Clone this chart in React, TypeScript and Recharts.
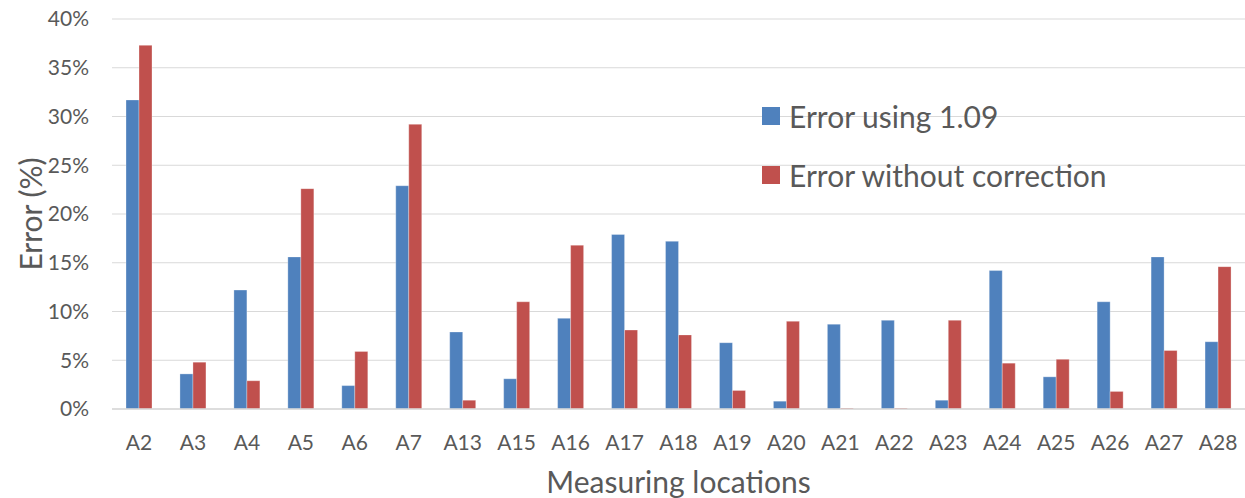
import React from 'react';
import { BarChart, Bar, XAxis, YAxis, CartesianGrid } from 'recharts';

const locations = ['A2', 'A3', 'A4', 'A5', 'A6', 'A7', 'A13', 'A15', 'A16', 'A17', 'A18', 'A19', 'A20', 'A21', 'A22', 'A23', 'A24', 'A25', 'A26', 'A27', 'A28'];
const errorUsing109 = [31.7, 3.6, 12.2, 15.6, 2.4, 22.9, 7.9, 3.1, 9.3, 17.9, 17.2, 6.8, 0.8, 8.7, 9.1, 0.9, 14.2, 3.3, 11.0, 15.6, 6.9];
const errorWithoutCorrection = [37.3, 4.8, 2.9, 22.6, 5.9, 29.2, 0.9, 11.0, 16.8, 8.1, 7.6, 1.9, 9.0, 0.1, 0.1, 9.1, 4.7, 5.1, 1.8, 6.0, 14.6];
const yTicks = [0, 5, 10, 15, 20, 25, 30, 35, 40];

const seriesNames = ['Error using 1.09', 'Error without correction'];
const seriesColors = ['#4F81BD', '#C0504D'];

const data = locations.map((loc, i) => ({
  loc,
  a: errorUsing109[i],
  b: errorWithoutCorrection[i],
}));

const FONT = 'Lato, "Open Sans", sans-serif';
const TEXT = '#595959';

// legend drawn as an overlay so it doesn't eat into the plot area
function LegendBox() {
  return (
    <div style={{ position: 'absolute', left: 762, top: 86, fontFamily: FONT, fontSize: 30, color: TEXT, lineHeight: 1 }}>
      {seriesNames.map((n, i) => (
        <div key={n} style={{ display: 'flex', alignItems: 'center', height: 59 }}>
          <span style={{ width: 18, height: 18, background: seriesColors[i], display: 'inline-block', marginRight: 9 }} />
          <span>{n}</span>
        </div>
      ))}
    </div>
  );
}

export default function App() {
  return (
    <div style={{ position: 'absolute', left: 0, top: 0, width: 1245, height: 498, background: '#fff' }}>
      <BarChart
        width={1245}
        height={498}
        data={data}
        margin={{ top: 19, right: 0, bottom: 0, left: 0 }}
        barGap={0}
        barCategoryGap="25%"
      >
        <CartesianGrid vertical={false} stroke="#d9d9d9" strokeWidth={1.2} />
        <XAxis
          dataKey="loc"
          height={89}
          tickLine={false}
          axisLine={{ stroke: '#d9d9d9', strokeWidth: 1.5 }}
          tickMargin={20}
          interval={0}
          tick={{ fill: TEXT, fontSize: 21, fontFamily: FONT }}
          label={{
            content: (p: any) => {
              const vb = p.viewBox;
              return (
                <text x={vb.x + vb.width / 2} y={vb.y + vb.height - 5} textAnchor="middle" fill={TEXT} fontSize={30} fontFamily={FONT}>
                  Measuring locations
                </text>
              );
            },
          }}
        />
        <YAxis
          width={112}
          domain={[0, 40]}
          ticks={yTicks}
          tickFormatter={(v: number) => `${v}%`}
          tickLine={false}
          axisLine={false}
          tickSize={0}
          tickMargin={23}
          tick={{ fill: TEXT, fontSize: 21, fontFamily: FONT }}
          label={{
            content: (p: any) => {
              const vb = p.viewBox;
              const cx = 30;
              const cy = vb.y + vb.height / 2;
              return (
                <text x={cx} y={cy} transform={`rotate(-90 ${cx} ${cy})`} textAnchor="middle" dominantBaseline="central" fill={TEXT} fontSize={30} fontFamily={FONT}>
                  Error (%)
                </text>
              );
            },
          }}
        />
        <Bar dataKey="a" name={seriesNames[0]} fill={seriesColors[0]} barSize={13} stroke="#ffffff" strokeOpacity={0.5} strokeWidth={0.6} isAnimationActive={false} />
        <Bar dataKey="b" name={seriesNames[1]} fill={seriesColors[1]} barSize={13} stroke="#ffffff" strokeOpacity={0.5} strokeWidth={0.6} isAnimationActive={false} />
      </BarChart>
      <LegendBox />
    </div>
  );
}
